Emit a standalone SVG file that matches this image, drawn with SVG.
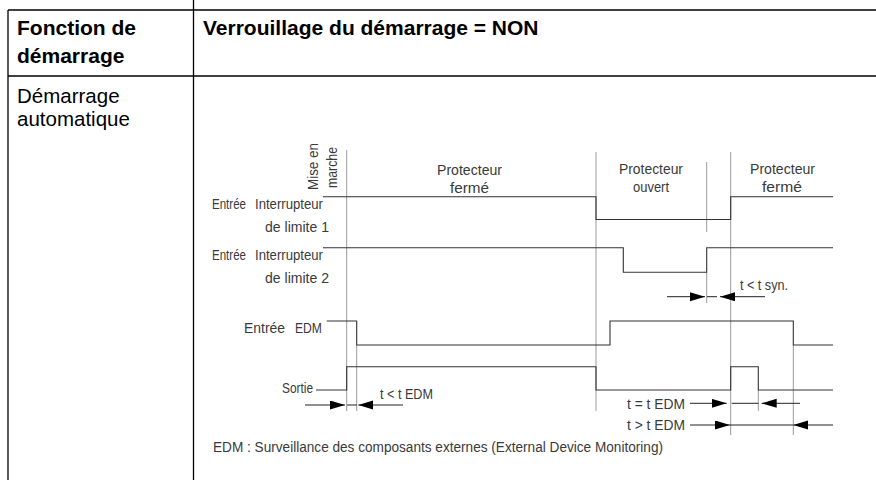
<svg xmlns="http://www.w3.org/2000/svg" width="876" height="480" viewBox="0 0 876 480">
  <style>
    .rule { stroke: #000; stroke-width: 1.3; fill: none; }
    .head { font-family: "Liberation Sans", Arial, sans-serif; font-size: 21px; font-weight: bold; fill: #000; }
    .cell { font-family: "Liberation Sans", Arial, sans-serif; font-size: 20.5px; fill: #000; }
    .lbl { font-family: "Liberation Sans", Arial, sans-serif; font-size: 14px; fill: #3a3a3a; }
    .sig { stroke: #333; stroke-width: 1.1; fill: none; }
    .grid { stroke: #9a9a9a; stroke-width: 1; fill: none; }
    .dim { stroke: #222; stroke-width: 1; fill: none; }
    .arr { marker-end: url(#tip); }
  </style>
  <defs>
    <marker id="tip" markerUnits="userSpaceOnUse" markerWidth="16" markerHeight="10" refX="15" refY="4.5" orient="auto">
      <path d="M0,0 L15,4.5 L0,9 z" fill="#000"/>
    </marker>
  </defs>
  <rect width="876" height="480" fill="#fff"/>

  <!-- table frame -->
  <g id="table">
    <line class="rule" x1="8" y1="10" x2="876" y2="10"/>
    <line class="rule" x1="8" y1="76" x2="876" y2="76"/>
    <line class="rule" x1="8" y1="10" x2="8" y2="480"/>
    <line class="rule" x1="193.5" y1="0" x2="193.5" y2="480"/>
    <text class="head" x="17" y="35">Fonction de</text>
    <text class="head" x="17" y="63">démarrage</text>
    <text class="head" x="203" y="35">Verrouillage du démarrage = NON</text>
    <text class="cell" x="17" y="103">Démarrage</text>
    <text class="cell" x="17" y="126">automatique</text>
  </g>

  <!-- time markers -->
  <g id="markers">
    <line class="grid" x1="346.7" y1="150" x2="346.7" y2="411"/>
    <line class="grid" x1="356.7" y1="345" x2="356.7" y2="411"/>
    <line class="grid" x1="596" y1="152" x2="596" y2="411"/>
    <line class="grid" x1="706.7" y1="162" x2="706.7" y2="232"/>
    <line class="grid" x1="706.7" y1="272" x2="706.7" y2="303"/>
    <line class="grid" x1="730.7" y1="152" x2="730.7" y2="435"/>
    <line class="grid" x1="758.3" y1="390" x2="758.3" y2="411"/>
    <line class="grid" x1="793.3" y1="345" x2="793.3" y2="435"/>
  </g>

  <!-- signal traces -->
  <g id="signals">
    <path id="limit1" class="sig" d="M323,196.7 H596 V219.5 H730.7 V196.7 H833"/>
    <path id="limit2" class="sig" d="M323,247.7 H623.3 V272.3 H706.7 V247.7 H833"/>
    <path id="edm" class="sig" d="M326.7,321 H356.7 V345 H610 V321 H793.3 V345 H833"/>
    <path id="sortie" class="sig" d="M316,390 H346.7 V366.7 H596 V390 H730.7 V366.7 H758.3 V390 H833"/>
  </g>

  <!-- timing dimensions -->
  <g id="connectors">
    <line class="dim arr" x1="667" y1="296.7" x2="705" y2="296.7"/>
    <line class="dim" x1="707" y1="296.7" x2="717" y2="296.7"/>
    <line class="dim arr" x1="765" y1="296.7" x2="720" y2="296.7"/>

    <line class="dim arr" x1="305" y1="405" x2="345" y2="405"/>
    <line class="dim" x1="347" y1="405" x2="357" y2="405"/>
    <line class="dim arr" x1="403" y1="405" x2="358.3" y2="405"/>

    <line class="dim arr" x1="690" y1="403.3" x2="726.7" y2="403.3"/>
    <line class="dim" x1="731.7" y1="403.3" x2="758.3" y2="403.3"/>
    <line class="dim arr" x1="800" y1="403.3" x2="761.7" y2="403.3"/>

    <line class="dim arr" x1="690" y1="425" x2="730" y2="425"/>
    <line class="dim" x1="730" y1="425" x2="793.3" y2="425"/>
    <line class="dim arr" x1="833" y1="425" x2="793.3" y2="425"/>
  </g>

  <!-- labels -->
  <g id="labels">
    <text class="lbl" transform="translate(318,190) rotate(-90)" textLength="47" lengthAdjust="spacingAndGlyphs">Mise en</text>
    <text class="lbl" transform="translate(337,188) rotate(-90)" textLength="41" lengthAdjust="spacingAndGlyphs">marche</text>

    <text class="lbl" x="437" y="175" textLength="65" lengthAdjust="spacingAndGlyphs">Protecteur</text>
    <text class="lbl" x="450" y="193" textLength="39" lengthAdjust="spacingAndGlyphs">fermé</text>
    <text class="lbl" x="619" y="174" textLength="64" lengthAdjust="spacingAndGlyphs">Protecteur</text>
    <text class="lbl" x="633" y="192" textLength="36" lengthAdjust="spacingAndGlyphs">ouvert</text>
    <text class="lbl" x="750" y="174" textLength="65" lengthAdjust="spacingAndGlyphs">Protecteur</text>
    <text class="lbl" x="762" y="192" textLength="40" lengthAdjust="spacingAndGlyphs">fermé</text>

    <text class="lbl" x="212" y="209" textLength="34" lengthAdjust="spacingAndGlyphs">Entrée</text>
    <text class="lbl" x="255" y="209" textLength="68" lengthAdjust="spacingAndGlyphs">Interrupteur</text>
    <text class="lbl" x="265" y="232" textLength="64" lengthAdjust="spacingAndGlyphs">de limite 1</text>

    <text class="lbl" x="212" y="260" textLength="34" lengthAdjust="spacingAndGlyphs">Entrée</text>
    <text class="lbl" x="255" y="260" textLength="68" lengthAdjust="spacingAndGlyphs">Interrupteur</text>
    <text class="lbl" x="265" y="283" textLength="64" lengthAdjust="spacingAndGlyphs">de limite 2</text>

    <text class="lbl" x="244" y="333" textLength="41" lengthAdjust="spacingAndGlyphs">Entrée</text>
    <text class="lbl" x="295" y="333" textLength="27" lengthAdjust="spacingAndGlyphs">EDM</text>

    <text class="lbl" x="282" y="393" textLength="31" lengthAdjust="spacingAndGlyphs">Sortie</text>

    <text class="lbl" x="740" y="290" textLength="48" lengthAdjust="spacingAndGlyphs">t &lt; t syn.</text>
    <text class="lbl" x="380" y="399" textLength="53" lengthAdjust="spacingAndGlyphs">t &lt; t EDM</text>
    <text class="lbl" x="627" y="408.5" textLength="58" lengthAdjust="spacingAndGlyphs">t = t EDM</text>
    <text class="lbl" x="627" y="430" textLength="58" lengthAdjust="spacingAndGlyphs">t &gt; t EDM</text>

    <text class="lbl" x="213" y="452" textLength="450" lengthAdjust="spacingAndGlyphs">EDM : Surveillance des composants externes (External Device Monitoring)</text>
  </g>
</svg>
